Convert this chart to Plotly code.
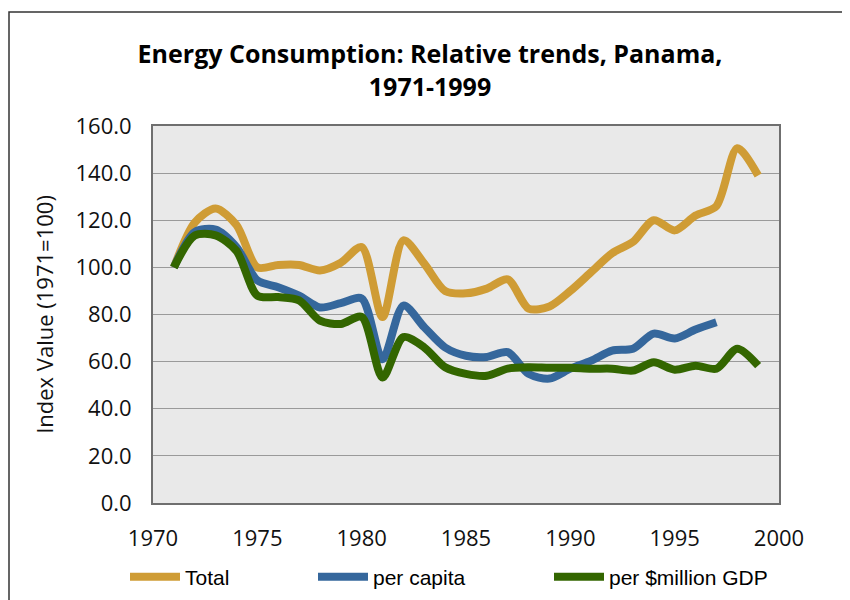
import plotly.graph_objects as go

years = list(range(1971, 2000))
total = [100, 119, 125, 118, 100, 101, 101, 98.7, 102, 108.6, 78.9, 111.5, 101.6, 90, 89,
         91, 94.9, 82.5, 83.4, 90, 98, 106, 110.8, 120, 115.7, 122, 126, 150.6, 139]
per_capita = [100, 115, 116, 108.6, 94.5, 91.6, 88, 83, 84.8, 86.8, 61, 83.8, 74.6, 66, 62.5,
              62, 64, 54.8, 52.8, 57, 60.4, 64.7, 65.5, 71.9, 69.8, 73.6, 76.7]
per_gdp = [100, 113.5, 113.6, 107, 88, 87.4, 86, 77.4, 76, 79, 53.3, 70.4, 66, 57.6, 54.8,
           54, 57, 57.6, 57.4, 57.4, 57, 57, 56.2, 59.7, 56.6, 58.3, 57, 65.5, 58.3]

names = ["Total", "per capita", "per $million GDP"]
colors = ["#CF9C35", "#35679C", "#336600"]
series = [total, per_capita, per_gdp]
legends = ["legend", "legend2", "legend3"]

# page body has an 8px margin; work in figure pixels
OFF = 8
W, H = 850 - OFF, 600 - OFF
L, R, T, B = 153 - OFF, 779 - OFF, 126 - OFF, 503 - OFF
PW, PH = R - L, B - T
legend_px = [125 - OFF, 313 - OFF, 549 - OFF]

fig = go.Figure()
for name, vals, col, lg in zip(names, series, colors, legends):
    fig.add_trace(go.Scatter(
        x=years[:len(vals)], y=vals, name=name, mode="lines",
        line=dict(color=col, width=8, shape="spline", smoothing=0.8),
        legend=lg,
    ))

legend_font = dict(family="Liberation Sans, Arial, sans-serif", size=21, color="#000")
leg_y = (B - (577 - OFF)) / PH
layout_legends = {}
for lg, px in zip(legends, legend_px):
    layout_legends[lg] = dict(x=(px - L) / PW, y=leg_y, xanchor="left", yanchor="middle",
                              orientation="h", font=legend_font,
                              bgcolor="rgba(0,0,0,0)", itemwidth=50)

fig.update_layout(
    width=W, height=H,
    margin=dict(l=L, r=W - R, t=T, b=H - B, autoexpand=False),
    paper_bgcolor="white",
    plot_bgcolor="#E9E9E9",
    title=dict(text="<b>Energy Consumption: Relative trends, Panama,<br>1971-1999</b>",
               x=(430 - OFF) / W, xanchor="center", y=1 - (63 - OFF) / H, yanchor="middle",
               font=dict(family="Open Sans, sans-serif", size=25, color="#000")),
    font=dict(family="Open Sans, sans-serif", size=22, color="#000"),
    showlegend=True,
    **layout_legends,
)
fig.update_xaxes(range=[1970, 2000], dtick=5, tick0=1970, showgrid=False, zeroline=False,
                 showline=True, linecolor="#6f6f6f", linewidth=2, mirror=True,
                 ticks="", tickfont=dict(size=22, color="#111"), ticklabelstandoff=15,
                 automargin=False)
fig.update_yaxes(range=[0, 160], dtick=20, tickformat=".1f", showgrid=True,
                 gridcolor="#9a9a9a", gridwidth=1, zeroline=False,
                 showline=True, linecolor="#6f6f6f", linewidth=2, mirror=True,
                 ticks="", tickfont=dict(size=22, color="#111"), ticklabelstandoff=15,
                 automargin=False,
                 title=dict(text="Index Value (1971=100)",
                            font=dict(size=22, color="#111"), standoff=16))

fig.add_shape(type="rect", xref="paper", yref="paper",
              x0=(9 - OFF - L) / PW, x1=(860 - L) / PW,
              y0=(B - 620) / PH, y1=(B - (12 - OFF)) / PH,
              line=dict(color="#333", width=1.5), fillcolor="rgba(0,0,0,0)", layer="below")

fig.write_html("out.html")
